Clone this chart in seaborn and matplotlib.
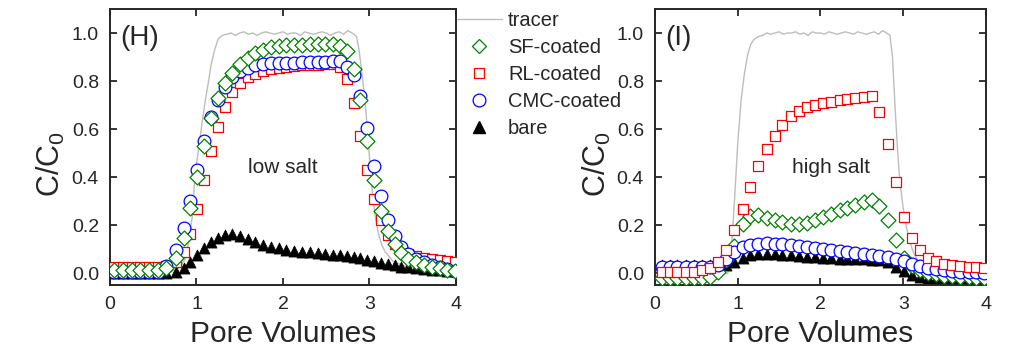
import matplotlib
matplotlib.use("Agg")
import matplotlib.pyplot as plt
from matplotlib.lines import Line2D
import seaborn as sns

# ---- data: low salt (H) ----
x_low = [0.05, 0.15, 0.25, 0.35, 0.45, 0.55, 0.65, 0.76, 0.85, 0.93, 1.01, 1.09, 1.17, 1.25,
         1.33, 1.41, 1.50, 1.59, 1.68, 1.77, 1.86, 1.95, 2.04, 2.13, 2.22, 2.31, 2.40, 2.49,
         2.58, 2.66, 2.74, 2.82, 2.89, 2.97, 3.05, 3.13, 3.21, 3.29, 3.37, 3.45, 3.54, 3.63,
         3.72, 3.81, 3.90, 3.99]
sf_low = [0.012, 0.012, 0.012, 0.012, 0.012, 0.012, 0.02, 0.062, 0.146, 0.27, 0.40, 0.53, 0.645,
          0.73, 0.79, 0.835, 0.87, 0.895, 0.915, 0.93, 0.94, 0.945, 0.95, 0.95, 0.952, 0.953,
          0.953, 0.955, 0.955, 0.945, 0.925, 0.85, 0.72, 0.55, 0.39, 0.26, 0.175, 0.12, 0.085,
          0.06, 0.045, 0.035, 0.025, 0.02, 0.015, 0.01]
rl_low = [0.027, 0.027, 0.027, 0.027, 0.027, 0.027, 0.03, 0.045, 0.087, 0.162, 0.268, 0.389,
          0.507, 0.61, 0.694, 0.753, 0.79, 0.815, 0.83, 0.84, 0.85, 0.855, 0.86, 0.862, 0.865,
          0.867, 0.868, 0.87, 0.87, 0.86, 0.81, 0.71, 0.57, 0.43, 0.31, 0.22, 0.16, 0.12, 0.095,
          0.08, 0.07, 0.065, 0.06, 0.055, 0.05, 0.048]
cmc_low = [0.005, 0.005, 0.005, 0.005, 0.005, 0.005, 0.03, 0.095, 0.19, 0.30, 0.43, 0.55, 0.65,
           0.72, 0.775, 0.815, 0.84, 0.855, 0.865, 0.87, 0.875, 0.877, 0.877, 0.877, 0.878,
           0.878, 0.88, 0.88, 0.882, 0.882, 0.86, 0.826, 0.736, 0.604, 0.448, 0.32, 0.222,
           0.153, 0.11, 0.08, 0.06, 0.045, 0.035, 0.025, 0.018, 0.01]
bare_low = [0.0, 0.0, 0.0, 0.0, 0.0, 0.0, 0.0, 0.005, 0.02, 0.045, 0.075, 0.105, 0.13, 0.148,
            0.16, 0.163, 0.157, 0.143, 0.13, 0.118, 0.11, 0.103, 0.098, 0.094, 0.09, 0.087,
            0.084, 0.081, 0.078, 0.075, 0.072, 0.068, 0.063, 0.057, 0.05, 0.044, 0.038, 0.033,
            0.028, 0.024, 0.02, 0.017, 0.014, 0.012, 0.01, 0.008]
tracer_x_low = [0.0, 0.3, 0.6, 0.7, 0.77, 0.82, 0.87, 0.91, 0.95, 0.98, 1.01, 1.04, 1.07, 1.1,
                1.14, 1.17, 1.21, 1.25, 1.3,
                1.35, 1.4, 1.45, 1.5, 1.55, 1.6, 1.65, 1.7, 1.75, 1.8, 1.85, 1.9, 1.95, 2.0,
                2.05, 2.1, 2.15, 2.2, 2.25, 2.3, 2.35, 2.4, 2.45, 2.5, 2.55, 2.6, 2.65, 2.7,
                2.75, 2.8,
                2.85, 2.88, 2.91, 2.94, 2.96, 3.0, 3.04, 3.07, 3.1, 3.14, 3.18, 3.27, 3.41,
                3.6, 3.8, 4.0]
tracer_low = [0.005, 0.005, 0.005, 0.007, 0.015, 0.03, 0.06, 0.13, 0.23, 0.4, 0.48, 0.56, 0.64,
              0.715, 0.8, 0.87, 0.93, 0.975, 0.99,
              0.995, 1.0, 0.99, 1.0, 1.005, 0.995, 1.0, 0.99, 1.0, 1.005, 1.0, 0.995, 1.0,
              1.005, 0.995, 1.0, 1.0, 0.99, 1.005, 1.0, 0.995, 1.0, 1.005, 1.0, 0.99, 1.0,
              1.005, 0.995, 1.01, 1.0,
              0.985, 0.93, 0.84, 0.75, 0.67, 0.48, 0.31, 0.23, 0.17, 0.12, 0.09, 0.05, 0.03,
              0.02, 0.015, 0.01]

# ---- data: high salt (I) ----
x_high = [0.08, 0.18, 0.27, 0.37, 0.47, 0.57, 0.67, 0.76, 0.86, 0.96, 1.06, 1.15, 1.25, 1.35,
          1.45, 1.54, 1.64, 1.74, 1.84, 1.93, 2.03, 2.13, 2.23, 2.32, 2.42, 2.52, 2.62, 2.71,
          2.81, 2.91, 3.01, 3.10, 3.20, 3.30, 3.40, 3.49, 3.59, 3.69, 3.79, 3.88, 3.98]
sf_high = [-0.02, -0.02, -0.02, -0.02, -0.02, -0.02, -0.015, 0.005, 0.055, 0.115, 0.205, 0.238,
           0.243, 0.232, 0.22, 0.212, 0.206, 0.205, 0.21, 0.22, 0.235, 0.248, 0.262, 0.273,
           0.285, 0.298, 0.305, 0.28, 0.22, 0.14, 0.065, 0.03, 0.012, 0.0, -0.005, -0.01,
           -0.012, -0.015, -0.017, -0.018, -0.02]
rl_high = [0.007, 0.007, 0.007, 0.007, 0.007, 0.015, 0.022, 0.045, 0.097, 0.178, 0.267, 0.358,
           0.448, 0.517, 0.573, 0.618, 0.653, 0.675, 0.69, 0.70, 0.707, 0.714, 0.72, 0.726,
           0.73, 0.733, 0.737, 0.673, 0.539, 0.379, 0.236, 0.146, 0.095, 0.065, 0.05, 0.04,
           0.035, 0.03, 0.027, 0.025, 0.023]
cmc_high = [0.028, 0.028, 0.028, 0.028, 0.028, 0.028, 0.028, 0.035, 0.06, 0.09, 0.108, 0.117,
            0.122, 0.124, 0.123, 0.12, 0.116, 0.112, 0.108, 0.104, 0.1, 0.095, 0.091, 0.087,
            0.083, 0.079, 0.075, 0.071, 0.066, 0.06, 0.05, 0.04, 0.03, 0.022, 0.016, 0.012,
            0.009, 0.007, 0.005, 0.004, 0.003]
bare_high = [0.035, 0.035, 0.035, 0.035, 0.035, 0.035, 0.035, 0.035, 0.035, 0.045, 0.065,
             0.078, 0.082, 0.082, 0.08, 0.077, 0.074, 0.071, 0.068, 0.066, 0.064, 0.062, 0.061,
             0.06, 0.059, 0.058, 0.057, 0.055, 0.045, 0.025, 0.008, -0.008, -0.015, -0.02,
             -0.02, -0.02, -0.02, -0.02, -0.02, -0.02, -0.02]
tracer_x_high = [0.0, 0.4, 0.8, 0.88, 0.92, 0.96, 1.0, 1.04, 1.08, 1.12, 1.16, 1.2, 1.25,
                 1.3, 1.35, 1.4, 1.45, 1.5, 1.55, 1.6, 1.65, 1.7, 1.75, 1.8, 1.85, 1.9, 1.95,
                 2.0, 2.05, 2.1, 2.15, 2.2, 2.25, 2.3, 2.35, 2.4, 2.45, 2.5, 2.55, 2.6, 2.65,
                 2.7, 2.75, 2.8,
                 2.84, 2.87, 2.9, 2.93, 2.96, 3.0, 3.04, 3.08, 3.13, 3.2, 3.3, 3.5, 3.75, 4.0]
tracer_high = [-0.01, -0.01, -0.005, 0.0, 0.08, 0.3, 0.54, 0.72, 0.83, 0.91, 0.955, 0.975, 0.985,
               0.99, 1.0, 0.995, 1.0, 1.005, 0.995, 1.0, 1.0, 1.005, 0.995, 1.0, 0.99, 1.005,
               1.0, 1.0, 0.995, 1.005, 1.0, 0.995, 1.0, 1.005, 1.0, 0.995, 1.005, 1.0, 0.995,
               1.0, 1.005, 0.995, 1.01, 1.0,
               0.99, 0.9, 0.7, 0.52, 0.38, 0.27, 0.19, 0.13, 0.08, 0.04, 0.015, 0.0, -0.005,
               -0.01]

labels = ["tracer", "SF-coated", "RL-coated", "CMC-coated", "bare"]
GREEN, RED, BLUE, GRAY = "#008000", "#ff0000", "#0000ff", "#bdbdbd"

sns.set_style("ticks")
plt.rcParams["font.family"] = ["Liberation Sans", "DejaVu Sans"]
plt.rcParams["mathtext.fontset"] = "custom"
plt.rcParams["mathtext.rm"] = "Liberation Sans"

fig = plt.figure(figsize=(10.26, 3.53), dpi=100)
ax1 = fig.add_axes([0.1072, 0.1926, 0.3372, 0.7819])
ax2 = fig.add_axes([0.6384, 0.1926, 0.3226, 0.7819])


def panel(ax, x, sf, rl, cmc, bare, tx, ty, z, tag, note, note_xy, ylab_x):
    sns.lineplot(x=tx, y=ty, color=GRAY, lw=1.0, ax=ax, zorder=1, sort=False)
    sns.scatterplot(x=x, y=bare, marker="^", s=64, color="black", edgecolor="black",
                    linewidth=0.5, ax=ax, zorder=2)
    sns.scatterplot(x=x, y=rl, marker="s", s=54, facecolor="white", edgecolor=RED,
                    linewidth=0.9, ax=ax, zorder=z["rl"])
    sns.scatterplot(x=x, y=cmc, marker="o", s=84, facecolor="white", edgecolor=BLUE,
                    linewidth=0.9, ax=ax, zorder=z["cmc"])
    sns.scatterplot(x=x, y=sf, marker="D", s=58, facecolor="white", edgecolor=GREEN,
                    linewidth=0.9, ax=ax, zorder=z["sf"])
    ax.set_xlim(0, 4)
    ax.set_ylim(-0.049, 1.10)
    ax.set_xticks([0, 1, 2, 3, 4])
    ax.set_yticks([0.0, 0.2, 0.4, 0.6, 0.8, 1.0])
    ax.set_yticklabels(["0.0", "0.2", "0.4", "0.6", "0.8", "1.0"])
    ax.tick_params(direction="in", length=5, width=1.3, labelsize=14, top=True, right=True)
    ax.tick_params(axis="x", pad=8)
    ax.tick_params(axis="y", pad=8)
    for sp in ax.spines.values():
        sp.set_linewidth(1.4)
        sp.set_visible(True)
    ax.set_xlabel("Pore Volumes", fontsize=21.5, labelpad=5)
    ax.set_ylabel("C/C$_0$", fontsize=22)
    ax.yaxis.set_label_coords(ylab_x, 0.44)
    ax.text(0.12, 0.98, tag, fontsize=20, va="center", ha="left")
    ax.text(note_xy[0], note_xy[1], note, fontsize=15, va="center", ha="center")


panel(ax1, x_low, sf_low, rl_low, cmc_low, bare_low, tracer_x_low, tracer_low,
      {"rl": 3, "cmc": 4, "sf": 5}, "(H)", "low salt", (2.0, 0.44), -0.124)
panel(ax2, x_high, sf_high, rl_high, cmc_high, bare_high, tracer_x_high, tracer_high,
      {"sf": 3, "cmc": 4, "rl": 5}, "(I)", "high salt", (2.13, 0.44), -0.127)

handles = [
    Line2D([], [], color=GRAY, lw=1.0),
    Line2D([], [], ls="none", marker="D", ms=7.6, mfc="white", mec=GREEN, mew=0.9),
    Line2D([], [], ls="none", marker="s", ms=7.3, mfc="white", mec=RED, mew=0.9),
    Line2D([], [], ls="none", marker="o", ms=9.2, mfc="white", mec=BLUE, mew=0.9),
    Line2D([], [], ls="none", marker="^", ms=8.0, mfc="black", mec="black"),
]
fig.legend(handles, labels, loc="upper left", bbox_to_anchor=(0.4454, 0.968), frameon=False,
           fontsize=14.5, handlelength=2.23, handletextpad=0.3, labelspacing=0.39,
           borderpad=0, borderaxespad=0)

fig.savefig("out.png", dpi=100)
